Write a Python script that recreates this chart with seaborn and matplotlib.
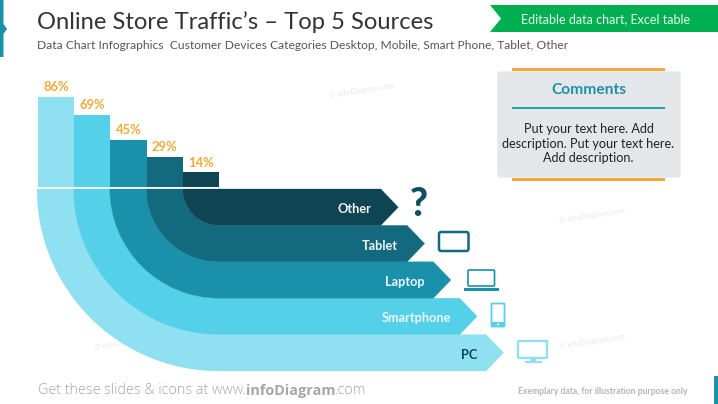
import matplotlib
matplotlib.use("Agg")
import matplotlib.pyplot as plt
from matplotlib.patches import Wedge, Polygon, Rectangle, FancyBboxPatch, Circle
import seaborn as sns
import pandas as pd

categories = ["PC", "Smartphone", "Laptop", "Tablet", "Other"]
values = [86, 69, 45, 29, 14]
colors = ["#8FE1F1", "#55D0E9", "#1A90AB", "#136A7E", "#0F4553"]
label_colors = ["#0F4553", "#EAF8FB", "#EAF8FB", "#F2F5F6", "#F2F5F6"]
title = "Online Store Traffic\u2019s \u2013 Top 5 Sources"
subtitle = "Data Chart Infographics  Customer Devices Categories Desktop, Mobile, Smart Phone, Tablet, Other"

sns.set_theme(style="white")
plt.rcParams["font.family"] = ["Lato", "DejaVu Sans"]

fig = plt.figure(figsize=(7.18, 4.04), dpi=100, facecolor="white")
bg = fig.add_axes([0, 0, 1, 1])
bg.set_xlim(0, 718)
bg.set_ylim(404, 0)
bg.axis("off")

# watermarks
for x, y in [(329, 96), (559, 221), (94, 348), (559, 347)]:
    bg.text(x, y, "\u00a9 infoDiagram.com", fontsize=5.5, color="#E4E7E9", rotation=9,
            rotation_mode="anchor", va="center", ha="left", zorder=0.5)

# bars
ax = fig.add_axes([38 / 718, (404 - 187) / 404, 181 / 718, 94.5 / 404])
ax.patch.set_alpha(0)
df = pd.DataFrame({"category": categories, "value": values})
sns.barplot(data=df, x="category", y="value", hue="category", order=categories,
            hue_order=categories, palette=colors, width=1.0, legend=False,
            saturation=1, linewidth=0, ax=ax)
ax.set_xlim(-0.5, 4.5)
ax.set_ylim(0, 90)
ax.axis("off")
for i, v in enumerate(values):
    ax.text(i, v + 3.3, f"{v}%", color="#EFAA3A", fontsize=9.4,
            fontweight="bold", ha="center", va="bottom")

# arches + arrows
cx, top, band = 219, 189, 36.4
for i in range(5):
    r = band * (5 - i)
    y0, y1 = top + r - band, top + r
    end = 486 - 26.3 * i
    tip = end + 17.5
    c = colors[i]
    bg.add_patch(Wedge((cx, top), r, 90, 180, width=band, fc=c, ec=c, lw=0.2, zorder=2 + i))
    bg.add_patch(Polygon([(cx - 0.5, y0), (end, y0), (tip, (y0 + y1) / 2), (end, y1), (cx - 0.5, y1)],
                         closed=True, fc=c, ec=c, lw=0.2, zorder=2 + i))
    bg.text(end - 9, (y0 + y1) / 2 + 1.9, categories[i], color=label_colors[i], fontsize=9.2,
            fontweight="bold", ha="right", va="center", zorder=10)

# header
bg.add_patch(Polygon([(0, 0), (3.5, 0), (3.5, 24), (7, 29), (3.5, 34), (3.5, 57), (0, 57)],
                     fc="#1A90AB", ec="none"))
bg.text(37, 22, title, fontsize=17.1, color="#333333", va="center", ha="left")
bg.text(37, 45.5, subtitle, fontsize=8.65, color="#555555", va="center", ha="left")

# green banner
bg.add_patch(Polygon([(490, 5), (718, 5), (718, 32), (490, 32), (501, 18.5)], fc="#00B050", ec="none"))
bg.text(606, 19, "Editable data chart, Excel table", fontsize=9, color="#E8F8EE", ha="center", va="center")

# comments
bg.add_patch(FancyBboxPatch((498, 72), 182, 105, boxstyle="round,pad=0,rounding_size=2",
                            fc="#E4E7EA", ec="#E4E7EA", lw=1))
bg.add_patch(Rectangle((512, 67.5), 153, 3.5, fc="#EFAA3A", ec="none", zorder=3))
bg.add_patch(Rectangle((512, 177.5), 153, 3.5, fc="#EFAA3A", ec="none", zorder=3))
bg.add_patch(Rectangle((512, 107), 153, 2, fc="#2A9DB0", ec="none", zorder=3))
bg.text(588.5, 90.5, "Comments", fontsize=11.2, fontweight="bold", color="#1F8FA8", ha="center", va="center", zorder=4)
bg.text(588.5, 143.5, "Put your text here. Add\ndescription. Put your text here.\nAdd description.",
        fontsize=9.1, color="#222222", ha="center", va="center", linespacing=1.22, zorder=4)

# icons
bg.text(418.5, 205, "?", fontsize=28, fontweight="black", color="#0F4F60", ha="center", va="center", zorder=5)

tc = "#136A7E"
bg.add_patch(FancyBboxPatch((439, 232), 29.5, 19, boxstyle="round,pad=0,rounding_size=2", fc="none", ec=tc, lw=1.8))

lc = "#1A90AB"
bg.add_patch(FancyBboxPatch((468, 270), 26.5, 16, boxstyle="round,pad=0,rounding_size=1", fc="none", ec=lc, lw=1.2))
bg.add_patch(Polygon([(464, 288), (499, 288), (499, 291), (464, 291)], fc=lc, ec="none"))

pc = "#55D0E9"
bg.add_patch(FancyBboxPatch((491.5, 303.5), 13, 23, boxstyle="round,pad=0,rounding_size=1", fc="none", ec=pc, lw=1.3))
bg.add_patch(Rectangle((491.5, 322), 13, 5, fc=pc, ec="none"))
bg.add_patch(Circle((498, 324.5), 1, fc="white", ec="none", zorder=4))

mc = "#8FE1F1"
bg.add_patch(FancyBboxPatch((518, 341), 29, 17, boxstyle="round,pad=0,rounding_size=1", fc="none", ec=mc, lw=1.7))
bg.add_patch(Rectangle((530, 358), 6, 3.5, fc=mc, ec="none"))
bg.add_patch(Rectangle((524.5, 361), 17, 2, fc=mc, ec="none"))

# footer
fs = 10.35
t = bg.text(38, 391, "Get these slides & icons at www.", fontsize=fs, color="#A6A6A6", ha="left", va="center",
            family=["Open Sans", "DejaVu Sans"], fontweight="light")
fig.canvas.draw()
inv = bg.transData.inverted()
x1 = inv.transform(t.get_window_extent().get_points())[1, 0]
t2 = bg.text(x1, 391, "infoDiagram", fontsize=fs, color="#A6A6A6", ha="left", va="center",
             family=["Open Sans", "DejaVu Sans"], fontweight="bold")
x2 = inv.transform(t2.get_window_extent().get_points())[1, 0]
bg.text(x2, 391, ".com", fontsize=fs, color="#A6A6A6", ha="left", va="center",
        family=["Open Sans", "DejaVu Sans"], fontweight="light")
bg.text(688, 391.5, "Exemplary data, for illustration purpose only", fontsize=6.2, fontweight="bold",
        color="#B5B5B5", ha="right", va="center")
bg.add_patch(Rectangle((714, 376), 4, 28, fc="#1A90AB", ec="none"))

fig.savefig("out.png", dpi=100)
